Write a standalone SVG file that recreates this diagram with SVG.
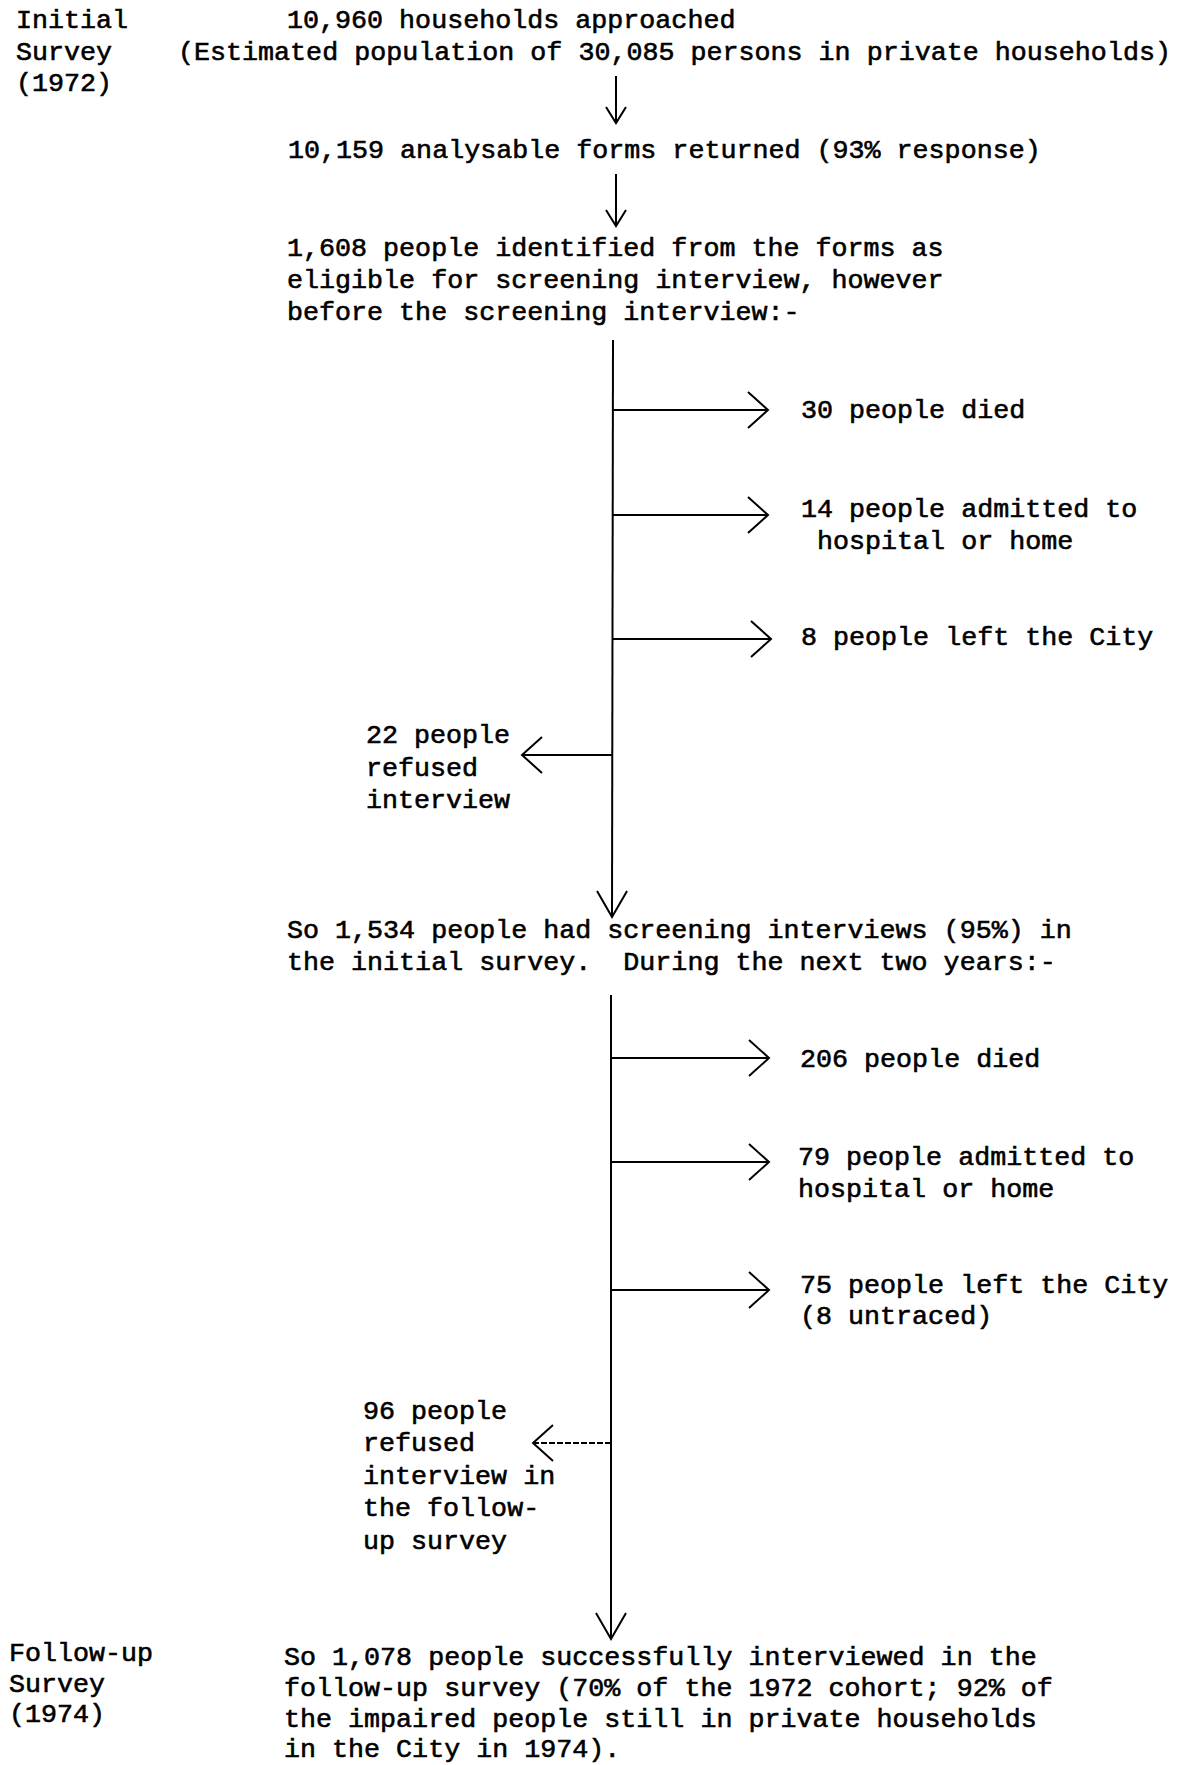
<svg xmlns="http://www.w3.org/2000/svg" width="1180" height="1765" viewBox="0 0 1180 1765">
<style>
text{font-family:"Liberation Mono","DejaVu Sans Mono",monospace;font-size:26.7px;fill:#000;stroke:#000;stroke-width:0.6px;}
.c{stroke:#000;stroke-width:2;fill:none;}
</style>
<defs>
<marker id="sm" markerUnits="userSpaceOnUse" markerWidth="20" markerHeight="26" viewBox="0 0 20 26" refX="18" refY="13" orient="auto"><path d="M2,3 L18,13 L2,23" fill="none" stroke="#000" stroke-width="2"/></marker>
<marker id="hz" markerUnits="userSpaceOnUse" markerWidth="24" markerHeight="42" viewBox="0 0 24 42" refX="22" refY="21" orient="auto"><path d="M2,3 L22,21 L2,39" fill="none" stroke="#000" stroke-width="2"/></marker>
<marker id="dn" markerUnits="userSpaceOnUse" markerWidth="30" markerHeight="34" viewBox="0 0 30 34" refX="28" refY="17" orient="auto"><path d="M2,2 L28,17 L2,32" fill="none" stroke="#000" stroke-width="2"/></marker>
</defs>
<rect width="1180" height="1765" fill="#fff"/>
<g id="label-initial"><text x="16" y="28">Initial</text><text x="16" y="60">Survey</text><text x="16" y="91">(1972)</text></g>
<g id="n-households"><text x="287" y="28">10,960 households approached</text><text x="178" y="60">(Estimated population of 30,085 persons in private households)</text></g>
<g id="n-forms"><text x="288" y="158">10,159 analysable forms returned (93% response)</text></g>
<g id="n-eligible"><text x="287" y="256">1,608 people identified from the forms as</text><text x="287" y="288">eligible for screening interview, however</text><text x="287" y="320">before the screening interview:-</text></g>
<g id="n-died30"><text x="801" y="418">30 people died</text></g>
<g id="n-hosp14"><text x="801" y="517">14 people admitted to</text><text x="817" y="549">hospital or home</text></g>
<g id="n-left8"><text x="801" y="645">8 people left the City</text></g>
<g id="n-refused22"><text x="366" y="743">22 people</text><text x="366" y="776">refused</text><text x="366" y="808">interview</text></g>
<g id="n-screened"><text x="287" y="938">So 1,534 people had screening interviews (95%) in</text><text x="287" y="970" xml:space="preserve">the initial survey.  During the next two years:-</text></g>
<g id="n-died206"><text x="800" y="1067">206 people died</text></g>
<g id="n-hosp79"><text x="798" y="1165">79 people admitted to</text><text x="798" y="1197">hospital or home</text></g>
<g id="n-left75"><text x="800" y="1293">75 people left the City</text><text x="800" y="1324">(8 untraced)</text></g>
<g id="n-refused96"><text x="363" y="1419">96 people</text><text x="363" y="1451">refused</text><text x="363" y="1484">interview in</text><text x="363" y="1516">the follow-</text><text x="363" y="1549">up survey</text></g>
<g id="label-followup"><text x="9" y="1661">Follow-up</text><text x="9" y="1692">Survey</text><text x="9" y="1722">(1974)</text></g>
<g id="n-final"><text x="284" y="1665">So 1,078 people successfully interviewed in the</text><text x="284" y="1696">follow-up survey (70% of the 1972 cohort; 92% of</text><text x="284" y="1727">the impaired people still in private households</text><text x="284" y="1757">in the City in 1974).</text></g>
<g id="connectors">
<line class="c" x1="616" y1="76" x2="616" y2="123" marker-end="url(#sm)"/>
<line class="c" x1="616" y1="174" x2="616" y2="226" marker-end="url(#sm)"/>
<line class="c" x1="613" y1="340" x2="612" y2="917" marker-end="url(#dn)"/>
<line class="c" x1="613" y1="410" x2="768" y2="410" marker-end="url(#hz)"/>
<line class="c" x1="613" y1="515" x2="768" y2="515" marker-end="url(#hz)"/>
<line class="c" x1="613" y1="639" x2="771" y2="639" marker-end="url(#hz)"/>
<line class="c" x1="612" y1="755" x2="522" y2="755" marker-end="url(#hz)"/>
<line class="c" x1="611" y1="995" x2="611" y2="1639" marker-end="url(#dn)"/>
<line class="c" x1="611" y1="1058" x2="769" y2="1058" marker-end="url(#hz)"/>
<line class="c" x1="611" y1="1162" x2="769" y2="1162" marker-end="url(#hz)"/>
<line class="c" x1="611" y1="1290" x2="769" y2="1290" marker-end="url(#hz)"/>
<line class="c" x1="611" y1="1443" x2="533" y2="1443" stroke-dasharray="6,2" marker-end="url(#hz)"/>
</g>
</svg>
